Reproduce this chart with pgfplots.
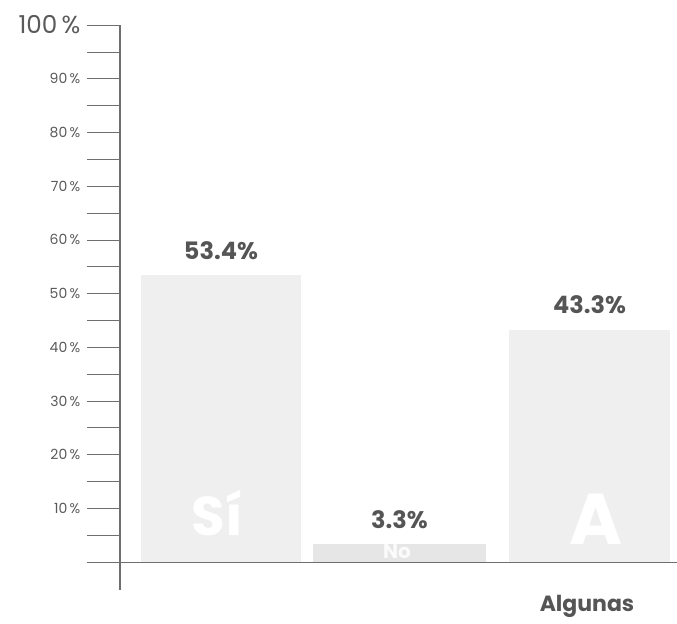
\documentclass[border=0pt]{standalone}
\usepackage{pgfplots}
\pgfplotsset{compat=1.18}
\usepackage{fontspec}
\setmainfont{Poppins}
\definecolor{barc}{HTML}{EFEFEF}
\definecolor{barn}{HTML}{E6E6E6}
\definecolor{axc}{HTML}{6E6E6E}
\definecolor{tlc}{HTML}{5A5A5A}
\definecolor{vlc}{HTML}{555555}
\begin{document}
\begin{tikzpicture}[x=0.75pt,y=0.75pt]
\begin{axis}[
  scale only axis,
  width=417.75pt, height=423.75pt,
  xmin=120, xmax=677, ymin=-5.2, ymax=100,
  axis y line*=left, axis x line=none,
  axis line style={axc, line width=0.8pt},
  clip=false,
  /pgf/number format/assume math mode=true,
  ytick={10,20,30,40,50,60,70,80,90,100},
  minor ytick={5,15,25,35,45,55,65,75,85,95},
  yticklabels={10\,\%,20\,\%,30\,\%,40\,\%,50\,\%,60\,\%,70\,\%,80\,\%,90\,\%,{\fontsize{18.5}{18.5}\selectfont 100\,\%}},
  yticklabel style={font=\fontsize{10.5}{11}\selectfont, text=tlc, xshift=-1.5pt},
  tick align=outside,
  major tick length=24.75pt, minor tick length=24.75pt,
  tick style={axc, line width=0.6pt},
  xtick=\empty,
  ybar, bar shift=0pt,
  nodes near coords={\pgfmathprintnumber[fixed,precision=1,fixed zerofill,assume math mode=true]{\pgfplotspointmeta}\%},
  nodes near coords style={font=\fontsize{18}{18}\selectfont\bfseries, text=vlc, anchor=center, yshift=18.5pt},
]
\addplot[fill=barc, draw=none, bar width=160] coordinates {(221,53.4)};
\addplot[fill=barn, draw=none, bar width=173] coordinates {(399.5,3.3)};
\addplot[fill=barc, draw=none, bar width=161] coordinates {(589.5,43.3)};
\node[text=white, font=\fontsize{41}{41}\selectfont\bfseries, anchor=base, inner sep=0pt] at (axis cs:217,5.05) {Sí};
\node[text=white, font=\fontsize{54}{54}\selectfont\bfseries, anchor=base, inner sep=0pt] at (axis cs:596,3.2) {A};
\node[text=white!85!barn, font=\fontsize{15}{15}\selectfont\bfseries, anchor=north, inner sep=0pt] at (axis cs:397,3.3) {No};
\draw[axc, line width=0.8pt] (axis cs:87,0) -- (axis cs:677,0);
\node[text=vlc, font=\fontsize{16.5}{16.5}\selectfont\bfseries] at (axis cs:587,-8.2) {Algunas};
\coordinate (tl) at (axis cs:0,104.67);
\coordinate (br) at (axis cs:677,-11.4);
\end{axis}
\pgfresetboundingbox
\path[use as bounding box] (tl) rectangle (br);
\end{tikzpicture}
\end{document}
